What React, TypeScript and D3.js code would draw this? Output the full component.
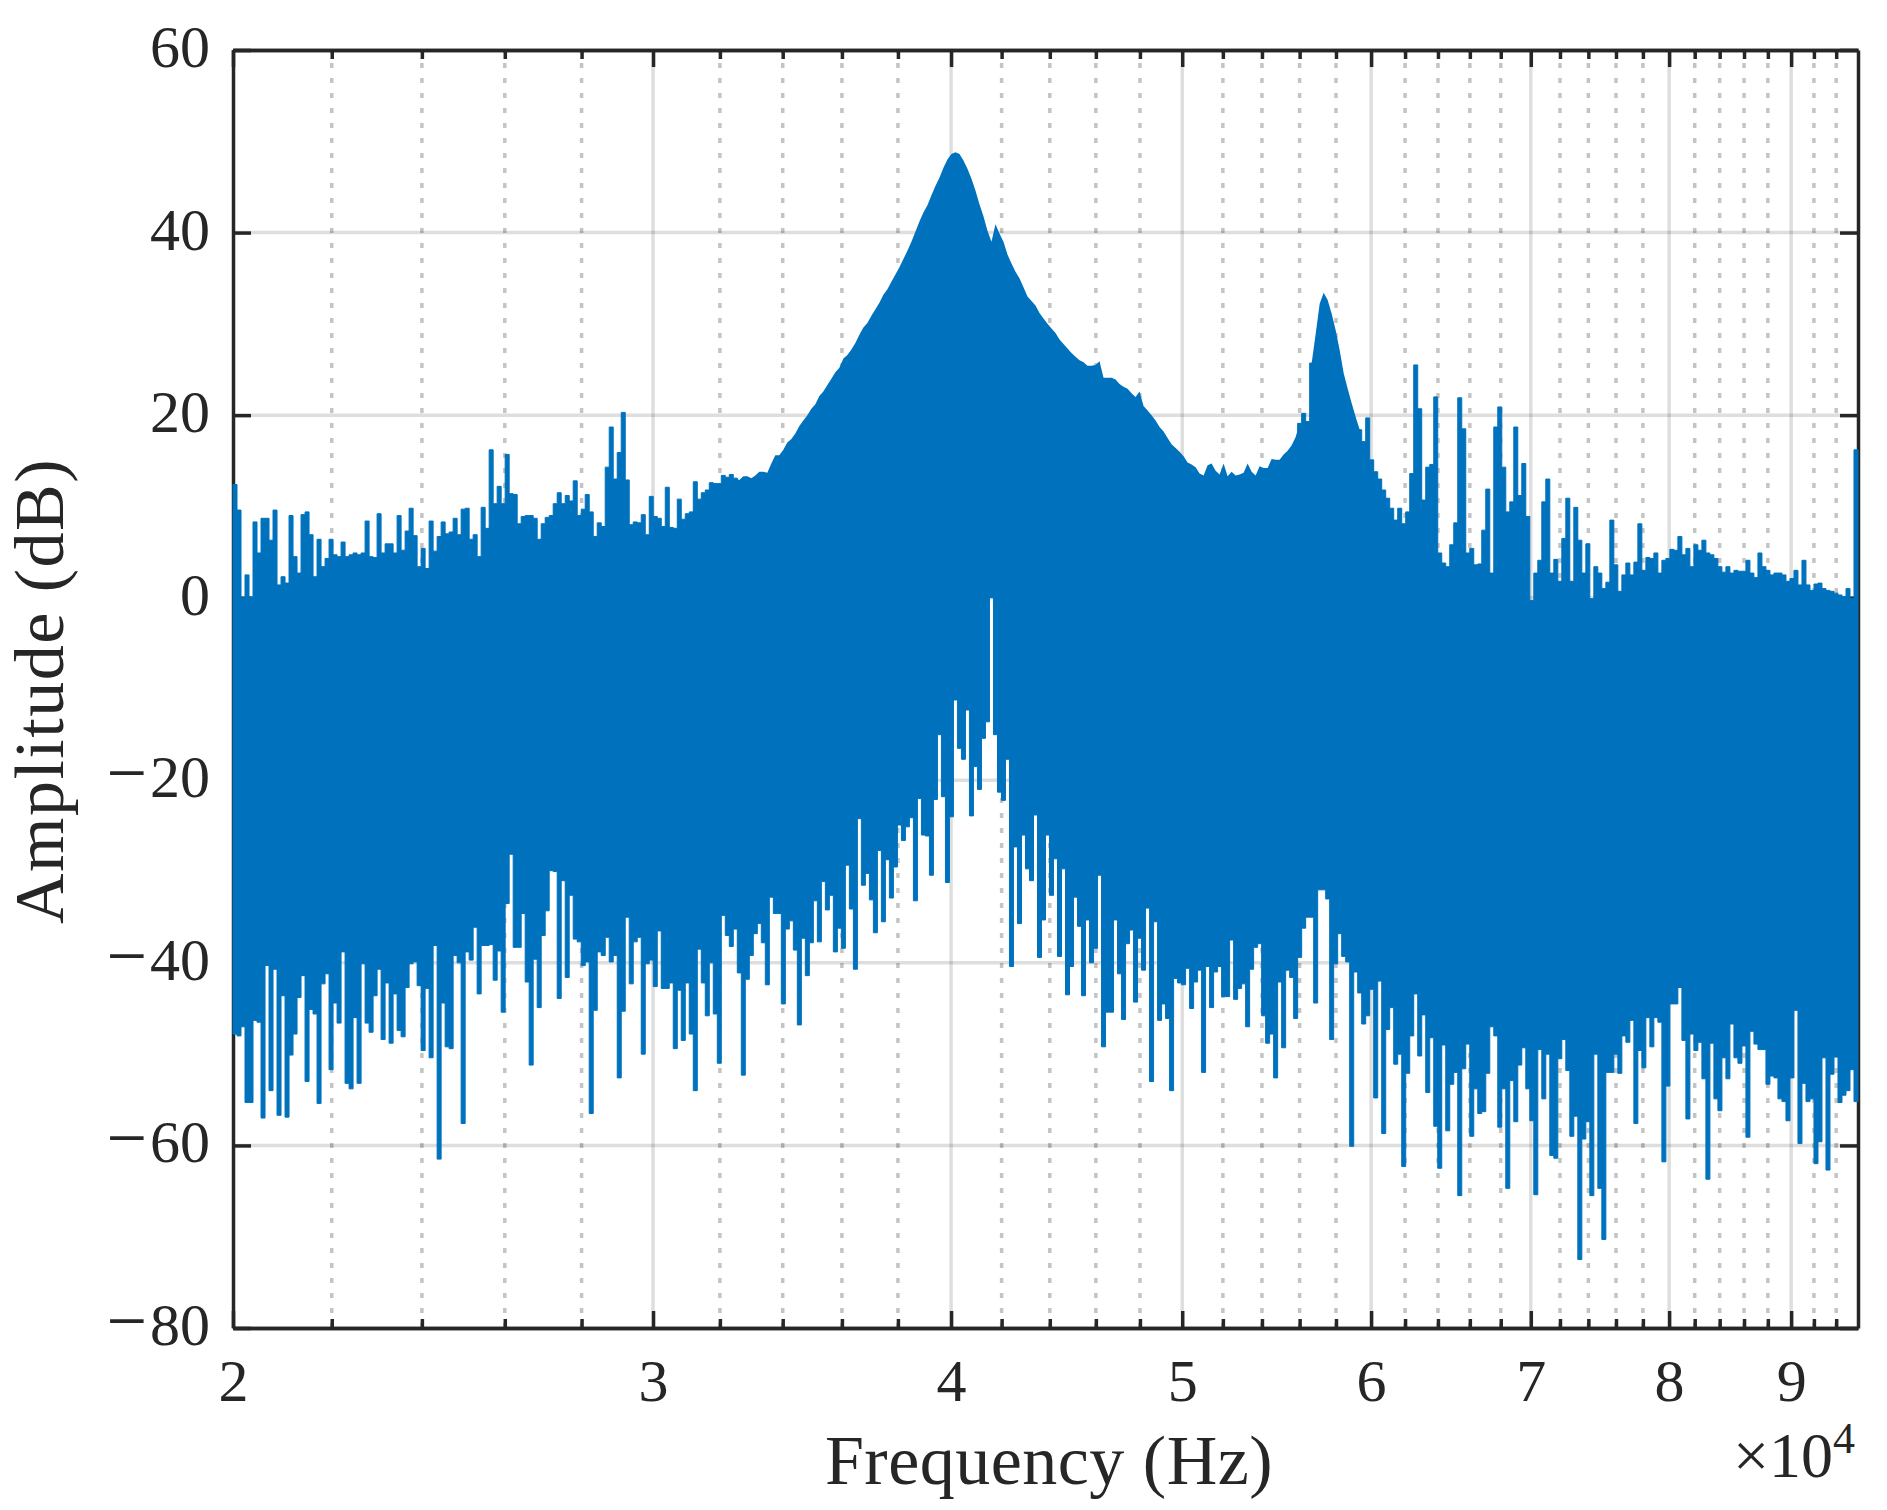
import React, { useEffect, useRef } from 'react'
import * as d3 from 'd3'

const FREQ_MIN = 20000
const FREQ_MAX = 96000

const xMajorTicks = [20000, 30000, 40000, 50000, 60000, 70000, 80000, 90000]
const xMinorTicks = [
  22000, 24000, 26000, 28000, 32000, 34000, 36000, 38000, 42000, 44000, 46000, 48000,
  52000, 54000, 56000, 58000, 62000, 64000, 66000, 68000, 72000, 74000, 76000, 78000,
  82000, 84000, 86000, 88000, 92000, 94000,
]
const yTicks = [-80, -60, -40, -20, 0, 20, 40, 60]

// top of the spectrum per display bin, dB
const upperDb = [
  12.4,9.6,0,2.5,0.1,8.3,4.9,8.7,8.7,6.3,9.6,1.4,2.3,1.6,9,4.5,2.7,9.1,9.4,6.9,2.3,6.4,3.4,4.3,6.4,
  4.7,4.5,6.1,4.5,4.7,4.9,4.7,4.9,8.4,4.5,4.4,9.2,4.9,5.9,5.9,4.9,9,5.2,7.3,9.8,6.8,3.4,5.4,3.2,8.4,
  5.1,6.7,8.3,7,7.2,8.7,6.9,9.7,9.8,6.4,6.9,4.5,9.9,7.6,16.2,10.3,12.2,10.3,15.7,11.4,11.3,8.1,8.9,9,9,
  8.7,6.4,8.1,8.8,9,10.3,11.5,10.3,11.2,10.6,12.8,9,9.7,11.3,9.4,6.7,8.2,7.8,14.3,18.7,13,15.9,20.3,12.9,8,
  8.3,8.2,9.1,6.9,11.1,8.9,8.7,7.8,12.1,7.7,7.6,10.8,8.6,9.2,9.4,12.7,10.8,11.5,11.8,12.6,12.5,12.5,13.4,13.2,13.5,
  13.1,12.9,13.3,13.3,13.1,13.4,13.8,13.8,13.7,14.7,15.6,15.6,16.2,17,17.4,18,18.8,19.4,20,20.7,21.2,22.1,22.6,23.3,24,
  24.7,25.2,26.2,26.6,27.2,27.9,28.8,29.6,30.1,30.9,31.6,32.3,33.2,33.8,34.6,35.4,36.2,37.1,38,39,40.1,41.2,42.2,43,44.1,
  45.1,46,47.1,48,48.6,48.8,48.6,47.9,47,45.9,44.6,43.1,41.8,40.2,39,40.9,39.9,39,37.6,36.6,35.7,35,34,33,32.5,
  32,31.2,30.6,30,29.5,29,28.3,27.8,27.3,26.8,26.4,26,25.8,25.4,25.4,25.5,25.9,24.1,24.1,24.1,23.9,23.4,23.1,22.9,22.4,
  22,22.6,21,20.5,20,19.4,18.7,18.2,17.5,16.8,16.4,16,15.5,14.8,14.6,14.3,13.6,13.4,14.5,14.7,13.9,13.5,14.7,13.3,13.8,
  13.4,13.5,13.7,14.7,13.8,13.4,14.4,14.2,14.2,15.2,15.1,15.1,15.7,16.1,16.7,17.6,19.1,20.2,19.3,25.7,28.9,32.2,33.4,32.6,31.1,
  29.3,27.1,24.6,22.9,21.3,19.8,18.4,17.1,19.7,15.1,13.8,13,11.8,10.9,9.8,8.5,9.8,8.1,9.4,13.6,25.5,20.7,10.7,14.3,14.6,
  22,4.9,3.8,3.4,5.8,8.2,21.9,18.5,4.9,5.4,3.6,3.7,7.4,11.9,2.7,18.7,20.9,14.3,9.4,10.5,18.7,11.2,14.7,8.9,-0.3,
  2.7,4.1,10.5,13,2.7,4.2,1.8,6.5,10.9,1.8,9.9,6.3,2.7,5.9,-0.1,3.4,2.7,1,1.7,8.5,3.6,0.7,2.5,3.8,2.5,
  3.9,8.1,3,4.4,4.3,4.9,2.7,4.1,4.3,5.3,5.2,6.7,4.7,5.4,3.4,5.8,5.2,6.3,4.9,4.7,4.3,3.4,2.8,3.4,2.7,
  3,2.9,2.9,4.1,2.7,2.2,4.9,3.4,3,2.5,2.7,2.7,2.5,1.8,2.1,3,1.4,4.1,1.4,0.8,1.5,1.6,1,0.8,0.7,0.5,0.3,0.1,1,-0.1,16.2,
]

// bottom of the spectrum per display bin, dB
const lowerDb = [
  -47.8,-48,-47,-55.3,-55.3,-46.3,-46.5,-57,-40.3,-54,-40.7,-56.7,-43.6,-56.9,-50.1,-47.8,-43.8,-41.4,-53,-45.1,-45.6,-55.4,-42.3,-41.2,-51.7,
  -44.4,-46.6,-38.8,-53.2,-53.8,-46,-53.2,-40.1,-46.6,-47.6,-43.6,-40.7,-48.4,-42.2,-48.8,-43.4,-47.4,-48.1,-42.7,-40.1,-39.9,-42.5,-49.6,-42.8,-50.4,
  -38.1,-61.5,-44.4,-49.2,-49.4,-39.2,-40,-57.6,-38.8,-39.7,-36.1,-43.4,-38.1,-38.1,-38,-41.9,-38.7,-45.4,-33.5,-28.1,-38.3,-38.3,-34.6,-42.1,-51.2,
  -39.6,-44.9,-37,-34.3,-29.9,-30,-43.9,-31,-41.6,-32.6,-37.4,-37.7,-40.3,-39.9,-56.5,-45.2,-38.8,-39.2,-37.2,-39.9,-39.2,-52.6,-45.3,-35,-42.3,
  -37.7,-37.2,-50,-40.1,-39.7,-42.6,-36.5,-42.8,-42.8,-42.2,-49.4,-43,-48.5,-42.2,-47.8,-54,-38.5,-42.2,-45.8,-40,-45.6,-51,-34.8,-37,-38.2,
  -36.3,-41.1,-52.3,-41.8,-39.2,-36.8,-35.7,-37.8,-42.4,-32.8,-34.6,-34.6,-44.5,-36.3,-35.4,-38.6,-46.8,-37.3,-41.4,-37.8,-33.2,-37.7,-31.1,-34.2,-32.6,
  -38.8,-36.2,-38.4,-29.3,-34.1,-40.7,-24.2,-31.5,-30.2,-33.1,-36.7,-27.7,-35.5,-28.7,-32.9,-29.5,-24.9,-26.6,-25.1,-24.1,-33.2,-22,-26,-26.1,-30.4,
  -22.1,-15,-21.8,-31.2,-24,-11.2,-16.5,-17.7,-12.3,-23.9,-18.5,-21,-15.4,-13.6,0,-15,-21.3,-22.2,-17.7,-40.4,-27.3,-35.7,-26,-29.7,-31,
  -23.8,-39.4,-35.3,-26,-32.6,-28.6,-39.3,-29.7,-43.5,-40.4,-32.8,-36,-43.6,-35.3,-40,-38.4,-30.4,-49.2,-45.4,-45.4,-35.3,-41.2,-46.2,-37.9,-36.4,
  -44.3,-37.3,-40.8,-34,-53,-35.5,-46.3,-44.5,-46.1,-54,-41.7,-42.2,-42.4,-40.6,-45,-42.1,-40.8,-52,-40.4,-44.9,-41,-40.4,-43.7,-43.7,-37.5,
  -44,-42.8,-42.3,-47,-40.7,-38.3,-37.9,-45.8,-48.8,-47.8,-52.6,-42.1,-49.3,-40.8,-41.6,-46.1,-39.4,-36.2,-35,-35,-44.4,-32,-32,-33,-48.4,
  -40.1,-36.8,-39.3,-39.9,-60.1,-41,-43.3,-46.7,-45.8,-42.9,-54.8,-42,-58.7,-47.3,-44.9,-51.1,-50,-62.3,-52.1,-48,-43.4,-50.2,-45.7,-54.2,-48.2,
  -57.9,-62.5,-49,-58.4,-53.3,-52,-65.5,-51.6,-48.9,-59,-53.8,-56.5,-56.3,-52.1,-47,-48,-58,-53.8,-64.7,-52.9,-57.4,-51.2,-49.3,-53.8,-57.3,
  -65.4,-49.5,-54.9,-50,-61.1,-61.4,-50.5,-48.4,-51.8,-59,-56.8,-72.5,-59.3,-57.4,-65.5,-50,-64.7,-70.3,-52,-52,-50,-52.1,-48,-48.7,-46.3,
  -57.6,-49.6,-51.5,-46,-49.2,-46,-46.5,-61.8,-53.5,-44.5,-44.5,-42.7,-48.5,-57.1,-47.8,-49.6,-48.7,-52.7,-63.7,-48.8,-54.9,-56.2,-50.4,-52.7,-46.7,
  -50.4,-51,-49.1,-59.1,-47.5,-48.9,-49.5,-49.5,-53.3,-52.4,-52.6,-54.9,-55.2,-57.3,-52.6,-45.2,-59.8,-53.2,-55.2,-54.9,-62,-59.6,-50.4,-62.7,-52.2,-50.3,-55.3,-54.5,-54,-51.7,-55.2,
]

// bin ranges where the top edge is a smooth resonance skirt, not spikes
const smoothRanges = [[125, 266], [269, 281]]

const FONT = '"Liberation Serif", serif'
const INK = '#262626'
const BLUE = '#0072BD'

export default function App() {
  const svgRef = useRef<SVGSVGElement>(null)

  useEffect(() => {
    const svg = d3.select(svgRef.current)
    svg.selectAll('*').remove()

    const width = 1887
    const height = 1510
    const left = 233
    const right = 1858
    const top = 50
    const bottom = 1328

    const x = d3.scaleLog().domain([FREQ_MIN, FREQ_MAX]).range([left, right])
    const y = d3.scaleLinear().domain([-80, 60]).range([bottom, top])

    svg.attr('width', width).attr('height', height)

    // grid goes first, the spectrum sits on top of everything
    const grid = svg.append('g')
    grid.selectAll('line.minor')
      .data(xMinorTicks)
      .join('line')
      .attr('class', 'minor')
      .attr('x1', d => x(d))
      .attr('x2', d => x(d))
      .attr('y1', bottom)
      .attr('y2', top)
      .attr('stroke', '#c4c4c4')
      .attr('stroke-width', 3.5)
      .attr('stroke-dasharray', '5 10')

    grid.selectAll('line.major')
      .data(xMajorTicks.slice(1))
      .join('line')
      .attr('class', 'major')
      .attr('x1', d => x(d))
      .attr('x2', d => x(d))
      .attr('y1', bottom)
      .attr('y2', top)
      .attr('stroke', '#000')
      .attr('stroke-opacity', 0.13)
      .attr('stroke-width', 3.5)

    grid.selectAll('line.horizontal')
      .data(yTicks.slice(1, -1))
      .join('line')
      .attr('class', 'horizontal')
      .attr('x1', left)
      .attr('x2', right)
      .attr('y1', d => y(d))
      .attr('y2', d => y(d))
      .attr('stroke', '#000')
      .attr('stroke-opacity', 0.13)
      .attr('stroke-width', 3.5)

    const styleAxis = (g: any) => {
      g.select('.domain').attr('stroke', INK).attr('stroke-width', 3.5)
      g.selectAll('.tick line').attr('stroke', INK).attr('stroke-width', 3.5)
      g.selectAll('.tick text')
        .attr('fill', INK)
        .style('font-family', FONT)
        .style('font-size', '60px')
    }

    const noLabel = () => ''

    // bottom + top
    const xAxisBottom = svg.append('g').attr('transform', `translate(0,${bottom})`)
      .call(d3.axisBottom(x).tickValues(xMajorTicks).tickSize(-17).tickSizeOuter(0).tickPadding(30)
        .tickFormat(d => String(+d / 10000)))
    styleAxis(xAxisBottom)
    const xMinorBottom = svg.append('g').attr('transform', `translate(0,${bottom})`)
      .call(d3.axisBottom(x).tickValues(xMinorTicks).tickSize(-9).tickSizeOuter(0).tickFormat(noLabel))
    styleAxis(xMinorBottom)
    const xAxisTop = svg.append('g').attr('transform', `translate(0,${top})`)
      .call(d3.axisTop(x).tickValues(xMajorTicks).tickSize(-17).tickSizeOuter(0).tickFormat(noLabel))
    styleAxis(xAxisTop)
    const xMinorTop = svg.append('g').attr('transform', `translate(0,${top})`)
      .call(d3.axisTop(x).tickValues(xMinorTicks).tickSize(-9).tickSizeOuter(0).tickFormat(noLabel))
    styleAxis(xMinorTop)

    // left + right
    const yAxisLeft = svg.append('g').attr('transform', `translate(${left},0)`)
      .call(d3.axisLeft(y).tickValues(yTicks).tickSize(-18).tickSizeOuter(0).tickPadding(23)
        .tickFormat(d => String(Math.abs(+d))))
    styleAxis(yAxisLeft)
    yAxisLeft.selectAll('.tick text').attr('dy', '0.275em')
    // the math minus is wider in the original font
    yAxisLeft.selectAll<SVGTextElement, number>('.tick text').each(function (d) {
      if (d >= 0) return
      const label = d3.select(this)
      label.text(null)
      label.append('tspan').style('font-size', '72px').style('letter-spacing', '3px').text('\u2212')
      label.append('tspan').text(String(Math.abs(d)))
    })
    const yAxisRight = svg.append('g').attr('transform', `translate(${right},0)`)
      .call(d3.axisRight(y).tickValues(yTicks).tickSize(-18).tickSizeOuter(0).tickFormat(noLabel))
    styleAxis(yAxisRight)

    // spectrum, one step per display bin, log spaced like the axis
    const binCount = Math.min(upperDb.length, lowerDb.length)
    const binEdges = d3.range(binCount + 1).map(i => FREQ_MIN * Math.pow(FREQ_MAX / FREQ_MIN, i / binCount))
    const inSmooth = (i: number) => smoothRanges.some(([a, b]) => i > a && i < b)

    const bins = binEdges.map((f, i) => {
      const k = Math.min(i, binCount - 1)
      // under the skirts the step edge stays low, the smooth path below draws the top
      return { f, hi: inSmooth(k) ? 10 : upperDb[k], lo: lowerDb[k] }
    })

    const band = d3.area<{ f: number; hi: number; lo: number }>()
      .x(d => x(d.f))
      .y0(d => y(d.lo))
      .y1(d => y(d.hi))
      .curve(d3.curveStepAfter)

    svg.append('path')
      .datum(bins)
      .attr('d', band)
      .attr('fill', BLUE)
      .attr('stroke', BLUE)
      .attr('stroke-width', 1)

    const skirt = d3.area<number>()
      .x(i => x(Math.sqrt(binEdges[i] * binEdges[i + 1])))
      .y0(y(5))
      .y1(i => y(upperDb[i]))

    smoothRanges.forEach(([a, b]) => {
      svg.append('path')
        .datum(d3.range(a, b + 1))
        .attr('d', skirt)
        .attr('fill', BLUE)
    })

    // labels
    svg.append('text')
      .attr('x', 1049)
      .attr('y', 1484)
      .attr('text-anchor', 'middle')
      .attr('fill', INK)
      .style('font-family', FONT)
      .style('font-size', '70px')
      .style('letter-spacing', '0.5px')
      .text('Frequency (Hz)')

    svg.append('text')
      .attr('transform', `translate(63,691) rotate(-90)`)
      .attr('text-anchor', 'middle')
      .attr('fill', INK)
      .style('font-family', FONT)
      .style('font-size', '70px')
      .style('letter-spacing', '1.5px')
      .text('Amplitude (dB)')

    const exponent = svg.append('text')
      .attr('x', 1855)
      .attr('y', 1477)
      .attr('text-anchor', 'end')
      .attr('fill', INK)
      .style('font-family', FONT)
      .style('font-size', '64px')
    exponent.append('tspan').text('\u00d710')
    exponent.append('tspan').attr('dy', -24).style('font-size', '44px').text('4')
  }, [])

  return <svg ref={svgRef} style={{ position: 'absolute', left: 0, top: 0 }} />
}
